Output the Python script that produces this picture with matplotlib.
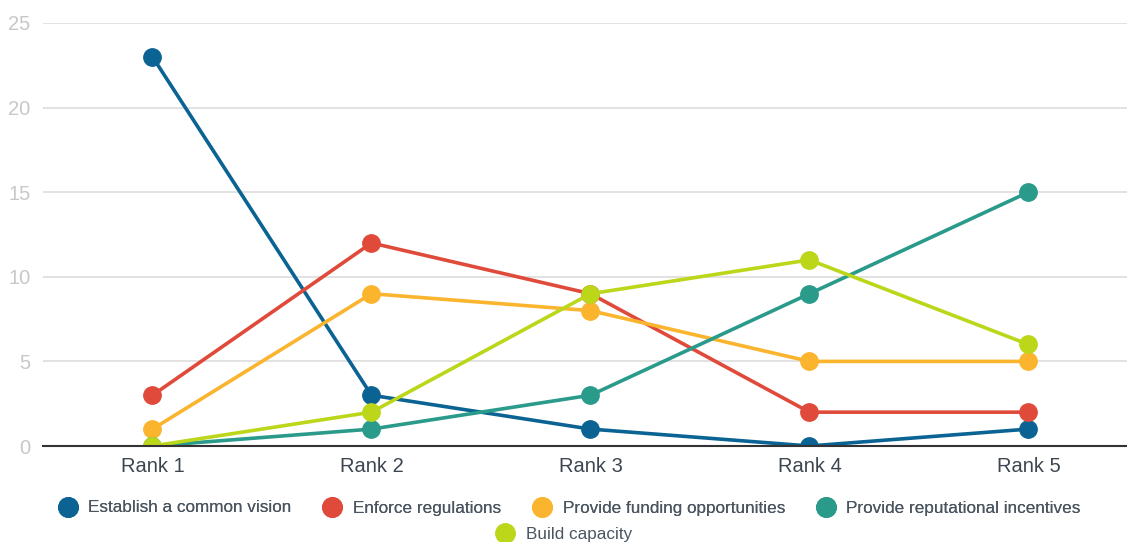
import numpy as np
import matplotlib.pyplot as plt
from matplotlib.lines import Line2D

plt.rcParams['font.family'] = ['Liberation Sans', 'DejaVu Sans']

ranks = ['Rank 1', 'Rank 2', 'Rank 3', 'Rank 4', 'Rank 5']
series_names = ['Establish a common vision', 'Enforce regulations',
                'Provide funding opportunities', 'Provide reputational incentives',
                'Build capacity']
vision = [23, 3, 1, 0, 1]
regulations = [3, 12, 9, 2, 2]
funding = [1, 9, 8, 5, 5]
reputational = [0, 1, 3, 9, 15]
capacity = [0, 2, 9, 11, 6]
colors = ['#0b6394', '#e04a3a', '#fbb42e', '#2a9a8b', '#bcd61a']

fig = plt.figure(figsize=(11.27, 5.42), dpi=100)
ax = fig.add_axes([43 / 1127, 96 / 542, 1 - 43 / 1127, 423 / 542])

x = np.arange(1, len(ranks) + 1)
all_series = [vision, regulations, funding, reputational, capacity]
for i, (vals, name, c) in enumerate(zip(all_series, series_names, colors)):
    ax.plot(x, vals, color=c, lw=2.6, marker='o', markersize=12.5,
            label=name, zorder=3 + i)

ax.set_xlim(0.5, 5.45)
ax.set_ylim(0, 25)
ax.set_yticks([0, 5, 10, 15, 20, 25])
ax.set_xticks(x)
ax.set_xticklabels(ranks)
ax.grid(axis='y', color='#dddddd', lw=1.2)
ax.set_axisbelow(True)
for s in ['top', 'right', 'left']:
    ax.spines[s].set_visible(False)
ax.spines['bottom'].set_color('#333333')
ax.spines['bottom'].set_linewidth(1.5)
ax.spines['bottom'].set_zorder(20)
ax.tick_params(axis='y', length=0, labelsize=14.5, labelcolor='#c8c8c8', pad=9)
ax.tick_params(axis='x', length=0, labelsize=14.5, labelcolor='#3d4650', pad=8)

handles = [Line2D([], [], color=c, marker='o', linestyle='none', markersize=14)
           for c in colors]
leg1 = fig.legend(handles[:4], series_names[:4], loc='center',
                  bbox_to_anchor=(0.505, 1 - 508 / 542), ncol=4,
                  frameon=False, fontsize=12.3, labelcolor='#4a5560',
                  handletextpad=0.6, columnspacing=1.8, handlelength=1.2)
fig.add_artist(leg1)
fig.legend(handles[4:], series_names[4:], loc='center',
           bbox_to_anchor=(0.5, 1 - 534 / 542), ncol=1,
           frameon=False, fontsize=12.3, labelcolor='#4a5560',
           handletextpad=0.6, handlelength=1.2)

fig.savefig('out.png', dpi=100)
